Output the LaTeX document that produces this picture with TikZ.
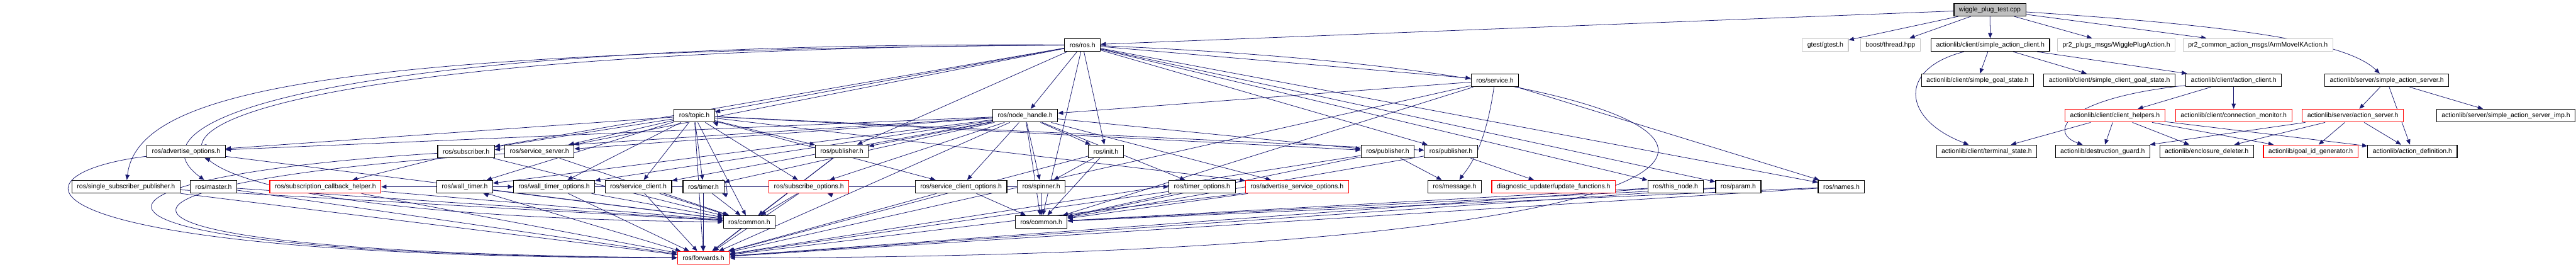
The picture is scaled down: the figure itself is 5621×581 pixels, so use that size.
\documentclass[tikz,border=0pt]{standalone}
\usepackage{fontspec}
\setmainfont{Liberation Sans}
\usetikzlibrary{arrows.meta,backgrounds}

\definecolor{edgeblue}{HTML}{191970}
\definecolor{rootgray}{HTML}{BFBFBF}
\definecolor{extgray}{HTML}{C8C8C8}

\tikzset{
  hdr/.style={draw=black, fill=white, line width=0.45pt, minimum height=0.28cm,
    inner xsep=0.11cm, inner ysep=0pt},
  hdrred/.style={hdr, draw=red},
  ext/.style={hdr, draw=extgray},
  root/.style={hdr, fill=rootgray},
  dep/.style={draw=edgeblue, line width=0.3pt, -{Triangle[length=3.2pt,width=2.6pt]}},
  selfdep/.style={dep, out=20, in=-20, min distance=0.12cm},
}

\begin{document}
\begin{tikzpicture}[x=0.01cm, y=-0.01cm, font=\fontsize{4.1}{5}\selectfont]
    \useasboundingbox (0,0) rectangle (5621,581);

    % Root file
    \node[root] (wig) at (4342,21) {wiggle\_plug\_test.cpp};

    % First level includes
    \node[hdr] (ros) at (2362,98) {ros/ros.h};
    \node[ext] (gtest) at (3983,98) {gtest/gtest.h};
    \node[ext] (boost) at (4125,98) {boost/thread.hpp};
    \node[hdr] (sac) at (4343,98) {actionlib/client/simple\_action\_client.h};
    \node[ext] (wpa) at (4618,98) {pr2\_plugs\_msgs/WigglePlugAction.h};
    \node[ext] (amik) at (4927,98) {pr2\_common\_action\_msgs/ArmMoveIKAction.h};

    % Second row
    \node[hdr] (srv) at (3262,175) {ros/service.h};
    \node[hdr] (sgs) at (4315,175) {actionlib/client/simple\_goal\_state.h};
    \node[hdr] (scgs) at (4603,175) {actionlib/client/simple\_client\_goal\_state.h};
    \node[hdr] (ac) at (4874,175) {actionlib/client/action\_client.h};
    \node[hdr] (sas) at (5208,175) {actionlib/server/simple\_action\_server.h};

    % Third row
    \node[hdr] (topic) at (1515,252) {ros/topic.h};
    \node[hdr] (nh) at (2237,252) {ros/node\_handle.h};
    \node[hdrred] (ch) at (4615,252) {actionlib/client/client\_helpers.h};
    \node[hdrred] (cm) at (4874,252) {actionlib/client/connection\_monitor.h};
    \node[hdrred] (as) at (5134,252) {actionlib/server/action\_server.h};
    \node[hdr] (sasi) at (5468,252) {actionlib/server/simple\_action\_server\_imp.h};

    % Fourth row
    \node[hdr] (advo) at (406,330) {ros/advertise\_options.h};
    \node[hdr] (sub) at (1017,330) {ros/subscriber.h};
    \node[hdr] (ssrv) at (1177,330) {ros/service\_server.h};
    \node[hdr] (pubA) at (1837,330) {ros/publisher.h};
    \node[hdr] (init) at (2413,330) {ros/init.h};
    \node[hdr] (pubB) at (3028,330) {ros/publisher.h};
    \node[hdr] (pubC) at (3166,330) {ros/publisher.h};
    \node[hdr] (ts) at (4335,330) {actionlib/client/terminal\_state.h};
    \node[hdr] (dg) at (4588,330) {actionlib/destruction\_guard.h};
    \node[hdr] (ed) at (4815,330) {actionlib/enclosure\_deleter.h};
    \node[hdrred] (gig) at (5042,330) {actionlib/goal\_id\_generator.h};
    \node[hdr] (ad) at (5264,330) {actionlib/action\_definition.h};

    % Fifth row
    \node[hdr] (ssp) at (275,407) {ros/single\_subscriber\_publisher.h};
    \node[hdr] (master) at (466,407) {ros/master.h};
    \node[hdrred] (sch) at (710,407) {ros/subscription\_callback\_helper.h};
    \node[hdr] (wt) at (1014,407) {ros/wall\_timer.h};
    \node[hdr] (wto) at (1209,407) {ros/wall\_timer\_options.h};
    \node[hdr] (sc) at (1393,407) {ros/service\_client.h};
    \node[hdr] (timer) at (1535,407) {ros/timer.h};
    \node[hdrred] (so) at (1765,407) {ros/subscribe\_options.h};
    \node[hdr] (sco) at (2097,407) {ros/service\_client\_options.h};
    \node[hdr] (spin) at (2272,407) {ros/spinner.h};
    \node[hdr] (to) at (2623,407) {ros/timer\_options.h};
    \node[hdrred] (aso) at (2830,407) {ros/advertise\_service\_options.h};
    \node[hdr] (msg) at (3174,407) {ros/message.h};
    \node[hdrred] (uf) at (3390,407) {diagnostic\_updater/update\_functions.h};
    \node[hdr] (tn) at (3656,407) {ros/this\_node.h};
    \node[hdr] (param) at (3793,407) {ros/param.h};
    \node[hdr] (names) at (4018,407) {ros/names.h};

    % Bottom rows
    \node[hdr] (comA) at (1635,484) {ros/common.h};
    \node[hdr] (comB) at (2272,484) {ros/common.h};
    \node[hdrred] (fwd) at (1535,562) {ros/forwards.h};

    \begin{scope}[on background layer]
    % Root includes
    \foreach \t in {gtest,boost,sac,wpa,amik}
        \draw[dep] (wig) -- (\t);
    \draw[dep] (wig) -- (ros);
    \draw[dep] (wig) .. controls (4950,60) and (5130,100) .. (sas);

    % actionlib
    \foreach \t in {sgs,scgs,ac}
        \draw[dep] (sac) -- (\t);
    \draw[dep] (sac) .. controls (4140,150) and (4150,260) .. (ts);
    \foreach \t in {ch,cm}
        \draw[dep] (ac) -- (\t);
    \draw[dep] (ac) .. controls (4500,215) and (4470,290) .. (dg);
    \foreach \t in {ts,dg,ed,gig,ad}
        \draw[dep] (ch) -- (\t);
    \foreach \t in {as,ad,sasi}
        \draw[dep] (sas) -- (\t);
    \foreach \t in {dg,ed,gig,ad}
        \draw[dep] (as) -- (\t);

    % ros/ros.h
    \foreach \t in {nh,srv,init,topic,sub,ssrv,pubA,pubC,tn,param,names,comB}
        \draw[dep] (ros) -- (\t);
    \draw[dep] (ros) .. controls (700,110) and (300,200) .. (ssp);
    \draw[dep] (ros) .. controls (800,90) and (250,250) .. (master);
    \draw[dep] (ros) .. controls (0,110) and (-80,470) .. (comA);
    \draw[dep] (ros) .. controls (4120,170) and (4160,560) .. (fwd);

    % ros/service.h
    \foreach \t in {nh,names,comB,fwd}
        \draw[dep] (srv) -- (\t);
    \draw[dep] (srv) .. controls (3240,330) and (3200,370) .. (msg);

    % ros/topic.h
    \draw[dep] (topic) to[selfdep] (topic);
    \foreach \t in {sub,ssrv,advo,wt,wto,sc,timer,so,pubA,pubB,pubC,sco,aso,comA,fwd}
        \draw[dep] (topic) -- (\t);

    % ros/node_handle.h
    \foreach \t in {pubA,pubB,sub,ssrv,advo,wt,wto,sc,timer,so,sco,spin,to,aso,init,comB,fwd}
        \draw[dep] (nh) -- (\t);

    % Fourth row includes
    \draw[dep] (advo) to[selfdep] (advo);
    \draw[dep] (advo) -- (comA);
    \draw[dep] (advo) .. controls (0,380) and (0,560) .. (fwd);
    \draw[dep] (sub) -- (sch);
    \foreach \s in {sub,ssrv,pubA}
        \draw[dep] (\s) -- (comA);
    \draw[dep] (sub) .. controls (60,390) and (40,555) .. (fwd);
    \draw[dep] (ssrv) .. controls (100,400) and (80,550) .. (fwd);
    \draw[dep] (pubA) -- (fwd);
    \draw[dep] (init) -- (spin);
    \draw[dep] (init) -- (comB);
    \draw[dep] (init) -- (fwd);
    \draw[dep] (pubB) -- (msg);
    \draw[dep] (pubB) -- (comB);
    \draw[dep] (pubB) -- (fwd);
    \draw[dep] (pubC) -- (uf);
    \draw[dep] (pubC) -- (comB);

    % Fifth row includes
    \foreach \s in {wt,timer,so}
        \draw[dep] (\s) to[selfdep] (\s);
    \draw[dep] (wt) -- (wto);
    \draw[dep] (timer) -- (to);
    \draw[dep] (so) -- (sch);
    \foreach \s in {ssp,master,sch,wt,wto,sc,timer,so}
        \draw[dep] (\s) -- (comA);
    \foreach \s in {ssp,master,sch,wt,wto,sc,timer,so,sco,to,aso,tn,param,names}
        \draw[dep] (\s) -- (fwd);
    \foreach \s in {sco,spin,to,aso,tn,param,names}
        \draw[dep] (\s) -- (comB);
    \draw[dep] (comA) -- (fwd);
    \end{scope}
\end{tikzpicture}
\end{document}
